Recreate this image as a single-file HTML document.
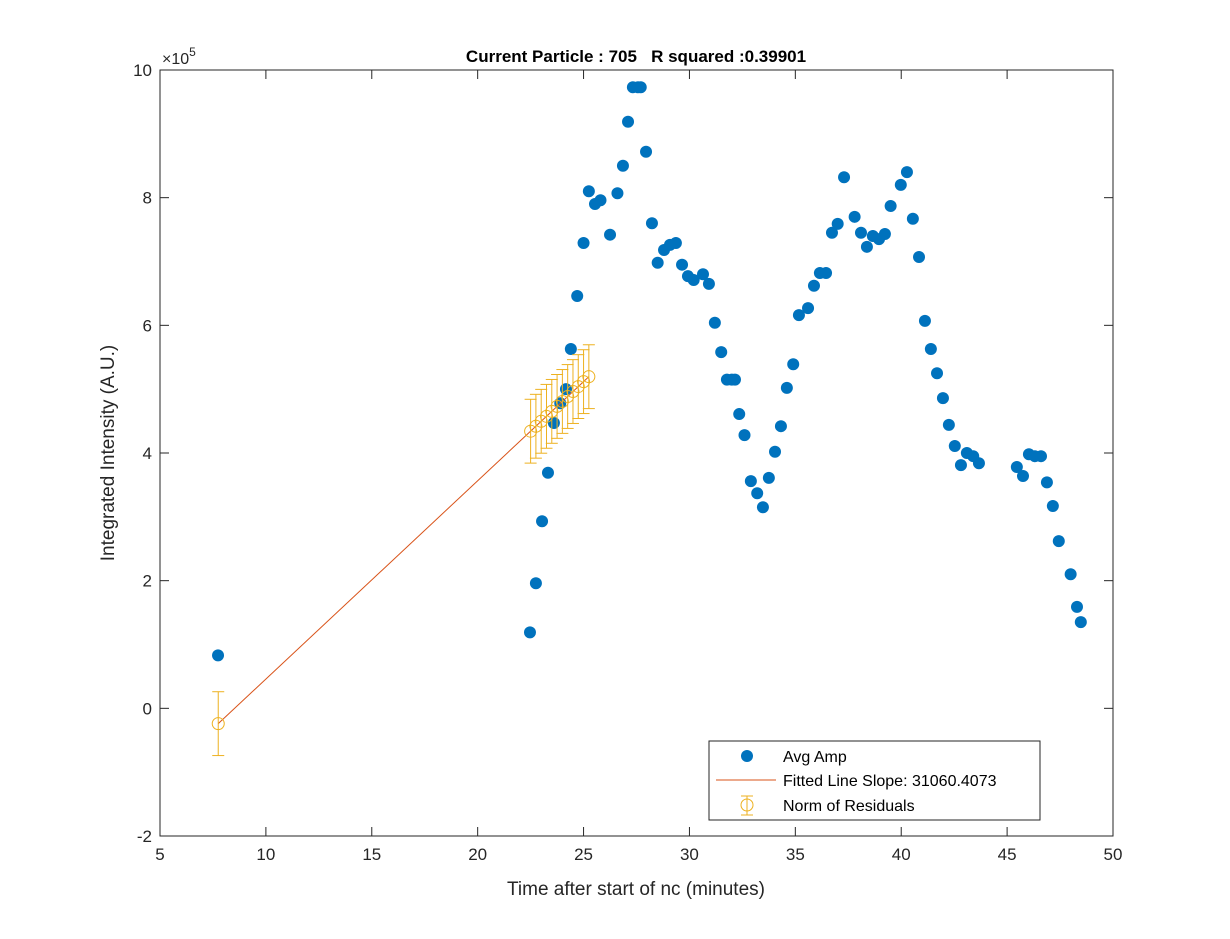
<!DOCTYPE html>
<html><head><meta charset="utf-8"><style>
body{margin:0;background:#fff;}
svg{display:block;font-family:"Liberation Sans",Arial,sans-serif;}
</style></head><body>
<svg id="chart" width="1230" height="939" viewBox="0 0 1230 939">
<rect width="1230" height="939" fill="#fff"/>
<g id="axes"></g>
<g id="marks"></g>
<text x="636" y="62" text-anchor="middle" font-weight="bold" font-size="17" style="white-space:pre" xml:space="preserve">Current Particle : 705   R squared :0.39901</text>
<text x="636" y="895" text-anchor="middle" font-size="19" fill="#262626">Time after start of nc (minutes)</text>
<text transform="translate(114,453) rotate(-90)" text-anchor="middle" font-size="19" fill="#262626">Integrated Intensity (A.U.)</text>
<text x="162" y="64" font-size="16" fill="#262626">×10<tspan dy="-8" font-size="12">5</tspan></text>
<g id="legend">
<rect x="709" y="741" width="331" height="79" fill="#fff" stroke="#262626" stroke-width="1"/>
<circle cx="747" cy="756" r="6" fill="#0072BD"/>
<text x="783" y="762" font-size="16">Avg Amp</text>
<line x1="716" y1="780" x2="776" y2="780" stroke="#D95319" stroke-width="1"/>
<text x="783" y="786" font-size="16">Fitted Line Slope: 31060.4073</text>
<g stroke="#EDB120" fill="none"><line x1="747" y1="796" x2="747" y2="815"/><line x1="741" y1="796" x2="753" y2="796"/><line x1="741" y1="815" x2="753" y2="815"/><circle cx="747" cy="805" r="6"/></g>
<text x="783" y="811" font-size="16">Norm of Residuals</text>
</g>
</svg>
<script>
const xTicks=[5,10,15,20,25,30,35,40,45,50];
const yTicks=[-2,0,2,4,6,8,10];
const ampX=[7.74,22.47,22.75,23.04,23.32,23.6,23.9,24.17,24.4,24.7,25.0,25.25,25.54,25.8,26.25,26.6,26.86,27.1,27.33,27.57,27.7,27.95,28.23,28.5,28.8,29.08,29.36,29.65,29.93,30.2,30.64,30.92,31.2,31.5,31.77,32.0,32.15,32.35,32.6,32.9,33.2,33.47,33.75,34.04,34.32,34.6,34.9,35.17,35.6,35.88,36.16,36.45,36.73,37.0,37.3,37.8,38.1,38.38,38.66,38.95,39.23,39.5,39.98,40.27,40.55,40.84,41.12,41.4,41.69,41.97,42.25,42.53,42.82,43.1,43.4,43.67,45.46,45.75,46.03,46.31,46.6,46.88,47.16,47.44,48.0,48.3,48.48];
const ampY=[0.83,1.19,1.96,2.93,3.69,4.47,4.78,5.0,5.63,6.46,7.29,8.1,7.9,7.96,7.42,8.07,8.5,9.19,9.73,9.73,9.73,8.72,7.6,6.98,7.18,7.26,7.29,6.95,6.77,6.71,6.8,6.65,6.04,5.58,5.15,5.15,5.15,4.61,4.28,3.56,3.37,3.15,3.61,4.02,4.42,5.02,5.39,6.16,6.27,6.62,6.82,6.82,7.45,7.59,8.32,7.7,7.45,7.23,7.4,7.35,7.43,7.87,8.2,8.4,7.67,7.07,6.07,5.63,5.25,4.86,4.44,4.11,3.81,4.0,3.95,3.84,3.78,3.64,3.98,3.95,3.95,3.54,3.17,2.62,2.1,1.59,1.35];
const fitX=[7.75,22.5,22.75,23.0,23.25,23.5,23.75,24.0,24.25,24.5,24.75,25.0,25.25];
const fitIntercept=-2.647;
const fitSlope=0.3106;
const resErr=[0.5,0.5,0.5,0.5,0.5,0.5,0.5,0.5,0.5,0.5,0.5,0.5,0.5];

const L=160,R=1113,T=70,B=836;
const sx=v=>L+(v-5)/(50-5)*(R-L);
const sy=v=>B-(v+2)/(12)*(B-T);
const NS='http://www.w3.org/2000/svg';
function mk(tag,attrs,parent){const e=document.createElementNS(NS,tag);for(const k in attrs)e.setAttribute(k,attrs[k]);parent.appendChild(e);return e;}
const axes=document.getElementById('axes'),marks=document.getElementById('marks');
let box=mk('rect',{x:L,y:T,width:R-L,height:B-T,fill:'none',stroke:'#262626','stroke-width':1},axes);


xTicks.forEach(t=>{const x=sx(t);
 mk('line',{x1:x,y1:B,x2:x,y2:B-9,stroke:'#262626'},axes);
 mk('line',{x1:x,y1:T,x2:x,y2:T+9,stroke:'#262626'},axes);
 const tx=mk('text',{x:x,y:B+24,'text-anchor':'middle','font-size':17,fill:'#262626'},axes);tx.textContent=t;
 
 });
yTicks.forEach(t=>{const y=sy(t);
 mk('line',{x1:L,y1:y,x2:L+9,y2:y,stroke:'#262626'},axes);
 mk('line',{x1:R,y1:y,x2:R-9,y2:y,stroke:'#262626'},axes);
 const tx=mk('text',{x:L-8,y:y+6,'text-anchor':'end','font-size':17,fill:'#262626'},axes);tx.textContent=t;
 
 });
ampX.forEach((x,i)=>{const c=mk('circle',{cx:sx(x),cy:sy(ampY[i]),r:6,fill:'#0072BD'},marks);
 
 });
const fy=x=>fitIntercept+fitSlope*x;
const fl=mk('line',{x1:sx(fitX[0]),y1:sy(fy(fitX[0])),x2:sx(fitX[fitX.length-1]),y2:sy(fy(fitX[fitX.length-1])),stroke:'#D95319','stroke-width':1},marks);


fitX.forEach((x,i)=>{const X=sx(x),Y=sy(fy(x)),y1=sy(fy(x)+resErr[i]),y2=sy(fy(x)-resErr[i]);
 const g=mk('g',{stroke:'#EDB120',fill:'none'},marks);
 
 
 mk('line',{x1:X,y1:y1,x2:X,y2:y2},g);
 mk('line',{x1:X-6,y1:y1,x2:X+6,y2:y1},g);
 mk('line',{x1:X-6,y1:y2,x2:X+6,y2:y2},g);
 mk('circle',{cx:X,cy:Y,r:6},g);});
</script>
</body></html>
